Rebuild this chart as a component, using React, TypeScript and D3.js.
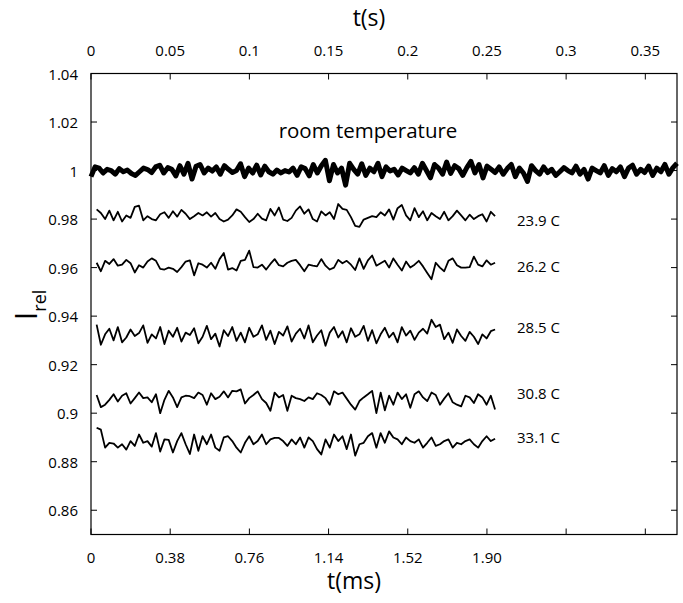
import React from "react";
import * as d3 from "d3";

// ---- data ----
const topTicks = [0, 0.05, 0.1, 0.15, 0.2, 0.25, 0.3, 0.35];
const topTickLabels = ["0", "0.05", "0.1", "0.15", "0.2", "0.25", "0.3", "0.35"];
const bottomTicks = [0, 0.38, 0.76, 1.14, 1.52, 1.9, 2.28, 2.66];
const bottomTickLabels = ["0", "0.38", "0.76", "1.14", "1.52", "1.90", "", ""];
const yTicks = [0.86, 0.88, 0.9, 0.92, 0.94, 0.96, 0.98, 1.0, 1.02, 1.04];
const yTickLabels = ["0.86", "0.88", "0.9", "0.92", "0.94", "0.96", "0.98", "1", "1.02", "1.04"];

const roomStart = 0; // ms
const roomEnd = 2.812; // ms
const thinStart = 0.027; // ms
const thinEnd = 1.939; // ms

const roomTemp = [
  0.9975, 1.0015, 1.001, 0.999, 1.0005, 1.0, 0.9985, 1.0008, 0.9995, 1.0002,
  0.9988, 0.998, 0.9995, 1.001, 1.0004, 0.9992, 1.0015, 1.0022, 0.999, 1.0012,
  1.0005, 0.9978, 1.002, 0.9985, 1.003, 0.9965, 1.0018, 1.0025, 0.999, 1.001,
  0.9998, 1.0015, 0.9985, 1.002, 1.0005, 0.9992, 1.0, 1.0028, 0.9975, 1.001,
  0.999, 1.0022, 0.9982, 1.0018, 0.9995, 0.9985, 1.0002, 0.999, 1.0, 0.9994,
  1.001, 0.998, 1.0015, 1.0008, 0.9978, 1.0025, 0.999, 1.002, 1.0042, 0.9958,
  1.0025, 0.999, 1.001, 0.994, 1.003, 1.0005, 0.9985, 1.0028, 0.998, 1.001,
  0.9995, 1.003, 0.9975, 1.0015, 0.9998, 1.0005, 0.9982, 1.001, 1.0, 0.999,
  1.0012, 0.9985, 1.003, 1.0, 0.997, 1.0025, 1.001, 0.9985, 1.0035, 0.9988,
  1.002, 1.0008, 0.998, 1.0012, 1.0038, 0.999, 1.0025, 0.997, 1.0018, 1.0005,
  0.9992, 1.0015, 0.9985, 1.0008, 1.0025, 0.9975, 1.001, 0.999, 0.9955, 1.002,
  1.0, 0.9985, 1.0015, 0.9992, 1.0005, 0.998, 0.9995, 1.0012, 1.0, 0.999,
  1.0018, 0.9985, 1.0005, 0.9965, 1.001, 1.0, 0.999, 1.002, 0.998, 1.0008,
  0.9995, 1.0015, 0.9975, 1.001, 1.0022, 0.9985, 1.0005, 0.9992, 1.0018, 0.998,
  1.001, 0.9995, 1.0025, 0.9985, 1.0012, 1.003,
];

const t239 = [
  0.984, 0.9825, 0.98, 0.9835, 0.9795, 0.983, 0.979, 0.9815, 0.9805, 0.985,
  0.9855, 0.9795, 0.9812, 0.98, 0.9795, 0.982, 0.9828, 0.9805, 0.9832, 0.981,
  0.9838, 0.9822, 0.98, 0.9812, 0.9825, 0.9815, 0.9828, 0.981, 0.9825, 0.98,
  0.979, 0.9798, 0.9815, 0.984, 0.983, 0.9808, 0.9788, 0.98, 0.9822, 0.9802,
  0.9795, 0.9842, 0.9815, 0.9848, 0.9798, 0.9792, 0.9805, 0.9835, 0.9852, 0.9822,
  0.984, 0.98, 0.979, 0.9832, 0.9815, 0.9828, 0.98, 0.9862, 0.9842, 0.9838,
  0.9808, 0.9772, 0.9768, 0.9798, 0.9805, 0.9812, 0.9808, 0.9828, 0.9815, 0.984,
  0.9798, 0.9845, 0.9858, 0.9815, 0.9795, 0.9845, 0.9808, 0.9832, 0.9795, 0.9825,
  0.9812, 0.98, 0.983, 0.9795, 0.9812, 0.9835, 0.9815, 0.9795, 0.9818, 0.98,
  0.9812, 0.982, 0.979, 0.983, 0.9812,
];

const t262 = [
  0.962, 0.9585, 0.9628, 0.9615, 0.9635, 0.9608, 0.9612, 0.9632, 0.9618, 0.958,
  0.961, 0.96, 0.9625, 0.9638, 0.9628, 0.9595, 0.9592, 0.96, 0.9595, 0.9582,
  0.9602, 0.9625, 0.963, 0.9568, 0.9618, 0.9612, 0.96, 0.962, 0.9595, 0.9635,
  0.966, 0.9592, 0.9598, 0.9588, 0.9628, 0.9632, 0.967, 0.9602, 0.96, 0.9612,
  0.9592, 0.9615, 0.9635, 0.961, 0.9605, 0.962, 0.9628, 0.9632, 0.961, 0.9585,
  0.9612, 0.9608, 0.9605, 0.9635, 0.9608, 0.9592, 0.96, 0.9632, 0.9618, 0.9628,
  0.9612, 0.959, 0.9638, 0.9595, 0.963, 0.965, 0.9608, 0.9618, 0.9628, 0.96,
  0.9638, 0.9612, 0.9588, 0.9625, 0.96, 0.9612, 0.9628, 0.9605, 0.9578, 0.9552,
  0.962, 0.96, 0.9585, 0.9628, 0.9638, 0.961, 0.96, 0.96, 0.9602, 0.9645,
  0.9612, 0.9605, 0.963, 0.9612, 0.962,
];

const t285 = [
  0.9365, 0.9282, 0.9325, 0.9348, 0.93, 0.9355, 0.9292, 0.9312, 0.9345, 0.9318,
  0.933, 0.9362, 0.929, 0.9325, 0.9308, 0.9355, 0.9285, 0.934, 0.9315, 0.9352,
  0.9295, 0.9332, 0.9322, 0.935, 0.9288, 0.9315, 0.936, 0.9305, 0.9328, 0.9275,
  0.9342, 0.9318, 0.9355, 0.9298, 0.9332, 0.9292, 0.9352, 0.9315, 0.9325, 0.9362,
  0.9302, 0.934, 0.9285, 0.9335, 0.932, 0.9358, 0.9295, 0.9328, 0.9348, 0.9308,
  0.9362, 0.9292, 0.932, 0.9342, 0.9278, 0.9332, 0.9355, 0.9312, 0.9338, 0.9292,
  0.935, 0.9315, 0.9325, 0.936, 0.9298, 0.9342, 0.9288, 0.9325, 0.9352, 0.9312,
  0.9332, 0.9292, 0.9355, 0.932, 0.934, 0.9302, 0.9332, 0.9348, 0.9328, 0.9385,
  0.9355, 0.9365, 0.9305, 0.9332, 0.929, 0.9345, 0.9318, 0.9298, 0.9335, 0.9315,
  0.9285, 0.9325, 0.9308, 0.9338, 0.9345,
];

const t308 = [
  0.9075, 0.9025, 0.9035, 0.9055, 0.9078, 0.9048, 0.9072, 0.9082, 0.904, 0.9062,
  0.9085, 0.9062, 0.9065, 0.9045, 0.9078, 0.9, 0.9055, 0.9092, 0.9065, 0.9025,
  0.9065, 0.9072, 0.907, 0.9062, 0.9085, 0.9075, 0.9035, 0.9082, 0.9058, 0.9068,
  0.909, 0.9065, 0.9092, 0.909, 0.9098, 0.904, 0.9062, 0.9075, 0.909, 0.9058,
  0.9042, 0.901, 0.9085, 0.9065, 0.9075, 0.901, 0.9072, 0.9062, 0.9058, 0.905,
  0.9065, 0.9058, 0.9082, 0.9075, 0.9062, 0.9035, 0.909, 0.9078, 0.9085, 0.906,
  0.9035, 0.9015, 0.905, 0.9065, 0.9078, 0.9092, 0.9, 0.9085, 0.9012, 0.9072,
  0.9035, 0.9085, 0.9058, 0.9078, 0.9022, 0.9078, 0.909, 0.9065, 0.905, 0.9085,
  0.9075, 0.9035, 0.906, 0.9082, 0.9045, 0.9035, 0.9028, 0.9072, 0.9065, 0.9042,
  0.9078, 0.9065, 0.9035, 0.9072, 0.9015,
];

const t331 = [
  0.894, 0.8932, 0.8858, 0.8878, 0.8875, 0.8858, 0.8872, 0.885, 0.8885, 0.8865,
  0.8912, 0.8878, 0.8885, 0.8862, 0.8918, 0.8842, 0.8892, 0.889, 0.8838, 0.8885,
  0.8918, 0.8872, 0.8832, 0.8912, 0.8845, 0.8905, 0.8872, 0.8912, 0.8858, 0.8845,
  0.89, 0.8905, 0.8885, 0.8858, 0.8838, 0.8878, 0.8905, 0.8872, 0.8885, 0.8912,
  0.8872, 0.8892, 0.8898, 0.8898, 0.8885, 0.8865, 0.8892, 0.8872, 0.89, 0.8858,
  0.89, 0.8885, 0.8852, 0.883, 0.8892, 0.8858, 0.8912, 0.8885, 0.8905, 0.8852,
  0.8912, 0.8825, 0.8872, 0.8878, 0.8905, 0.8918, 0.8858, 0.8918, 0.8878, 0.8925,
  0.89, 0.8892, 0.8872, 0.89, 0.8885, 0.8878, 0.8892, 0.8858, 0.8878, 0.89,
  0.8865, 0.8872, 0.8885, 0.8892, 0.8858, 0.8878, 0.8872, 0.8885, 0.8892, 0.8872,
  0.8858, 0.8885, 0.8905, 0.8885, 0.8895,
];

const thinSeries = [
  { label: "23.9 C", values: t239, labelValue: 0.9795 },
  { label: "26.2 C", values: t262, labelValue: 0.9605 },
  { label: "28.5 C", values: t285, labelValue: 0.9355 },
  { label: "30.8 C", values: t308, labelValue: 0.9085 },
  { label: "33.1 C", values: t331, labelValue: 0.89 },
];

const FONT = "'Open Sans', 'DejaVu Sans', sans-serif";

export default function App() {
  const W = 683;
  const H = 603;
  const left = 91;
  const right = 677;
  const top = 73.5;
  const bottom = 534.5;

  const xTop = d3.scaleLinear().domain([0, 0.37]).range([left, right]);
  const xBot = d3.scaleLinear().domain([0, 2.812]).range([left, right]);
  const y = d3.scaleLinear().domain([0.85, 1.04]).range([bottom, top]);

  const timesFor = (n: number, a: number, b: number) =>
    d3.range(n).map((i) => a + ((b - a) * i) / (n - 1));

  const line = d3
    .line<[number, number]>()
    .x((d) => xBot(d[0]))
    .y((d) => y(d[1]));

  const roomTimes = timesFor(roomTemp.length, roomStart, roomEnd);
  const roomPath = line(roomTemp.map((v, i) => [roomTimes[i], v]))!;

  const tick = 6;

  return (
    <svg
      width={W}
      height={H}
      style={{ position: "absolute", left: 0, top: 0, background: "#fff" }}
      fontFamily={FONT}
    >
      <rect x={0} y={0} width={W} height={H} fill="#fff" />
      {/* data */}
      <path d={roomPath} fill="none" stroke="#000" strokeWidth={5} strokeLinejoin="round" />
      {thinSeries.map((s) => {
        const ts = timesFor(s.values.length, thinStart, thinEnd);
        const p = line(s.values.map((v, i) => [ts[i], v]))!;
        return (
          <g key={s.label}>
            <path d={p} fill="none" stroke="#000" strokeWidth={1.8} strokeLinejoin="round" />
            <text x={517} y={y(s.labelValue)} fontSize={15} dominantBaseline="central">
              {s.label}
            </text>
          </g>
        );
      })}
      <text x={368} y={130} fontSize={20.5} textAnchor="middle" dominantBaseline="central">
        room temperature
      </text>

      {/* frame */}
      <rect x={left} y={top} width={right - left} height={bottom - top} fill="none" stroke="#000" strokeWidth={1.2} />

      {/* top axis */}
      {topTicks.map((t, i) => (
        <g key={"tt" + i}>
          <line x1={xTop(t)} x2={xTop(t)} y1={top} y2={top + tick} stroke="#000" strokeWidth={1} />
          <text x={xTop(t)} y={50} fontSize={15} textAnchor="middle" dominantBaseline="central">
            {topTickLabels[i]}
          </text>
        </g>
      ))}
      <text x={369} y={17} fontSize={23} textAnchor="middle" dominantBaseline="central">
        t(s)
      </text>

      {/* bottom axis */}
      {bottomTicks.map((t, i) => (
        <g key={"bt" + i}>
          <line x1={xBot(t)} x2={xBot(t)} y1={bottom} y2={bottom - tick} stroke="#000" strokeWidth={1} />
          <text x={xBot(t)} y={557} fontSize={15} textAnchor="middle" dominantBaseline="central">
            {bottomTickLabels[i]}
          </text>
        </g>
      ))}
      <text x={354} y={580} fontSize={23} textAnchor="middle" dominantBaseline="central">
        t(ms)
      </text>

      {/* y axis */}
      {yTicks.map((v, i) => (
        <g key={"yt" + i}>
          <line x1={left} x2={left + tick} y1={y(v)} y2={y(v)} stroke="#000" strokeWidth={1} />
          <line x1={right} x2={right - tick} y1={y(v)} y2={y(v)} stroke="#000" strokeWidth={1} />
          <text x={78} y={y(v)} fontSize={15} textAnchor="end" dominantBaseline="central">
            {yTickLabels[i]}
          </text>
        </g>
      ))}
      <text transform="translate(37,305) rotate(-90)" textAnchor="middle">
        <tspan fontSize={31}>I</tspan>
        <tspan fontSize={18} dy={9}>rel</tspan>
      </text>
    </svg>
  );
}
